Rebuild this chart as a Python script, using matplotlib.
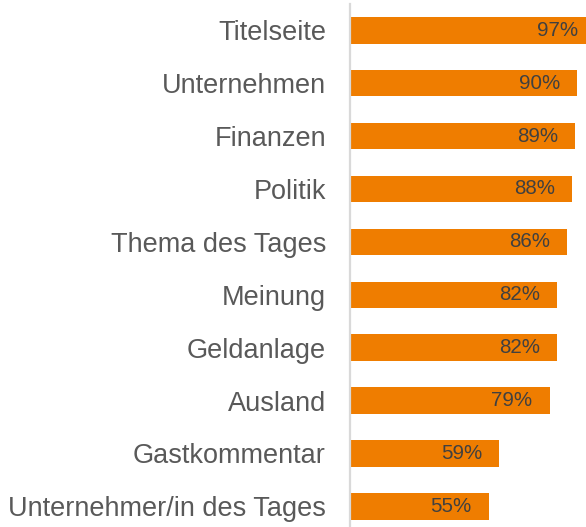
import matplotlib
matplotlib.use("Agg")
import matplotlib.pyplot as plt

# Data
categories = ["Titelseite", "Unternehmen", "Finanzen", "Politik", "Thema des Tages",
              "Meinung", "Geldanlage", "Ausland", "Gastkommentar",
              "Unternehmer/in des Tages"]
values = [97, 90, 89, 88, 86, 82, 82, 79, 59, 55]
value_labels = ["97%", "90%", "89%", "88%", "86%", "82%", "82%", "79%", "59%", "55%"]

plt.rcParams['font.family'] = ['Liberation Sans', 'DejaVu Sans']

fig = plt.figure(figsize=(5.86, 5.27), dpi=100)
ax = fig.add_axes([350 / 586, 0, 236 / 586, 523 / 527])

pos = list(range(len(categories)))
ax.barh(pos, values, height=0.5, color="#EF7D00")

ax.set_xlim(0, 93.4)
ax.set_ylim(9.39, -0.497)

for y, v, lab in zip(pos, values, value_labels):
    ax.annotate(lab, xy=(v, y), xytext=(-12.3, 0), textcoords="offset points",
                ha="right", va="center", fontsize=14.8, color="#404040",
                annotation_clip=False)

ax.set_yticks(pos)
ax.set_yticklabels(categories, fontsize=19.5, color="#595959")
ax.tick_params(axis="y", length=0, pad=17.3)
ax.set_xticks([])

for s in ["top", "right", "bottom"]:
    ax.spines[s].set_visible(False)
ax.spines["left"].set_color("#D9D9D9")
ax.spines["left"].set_linewidth(1.6)

fig.savefig("out.png", dpi=100)
